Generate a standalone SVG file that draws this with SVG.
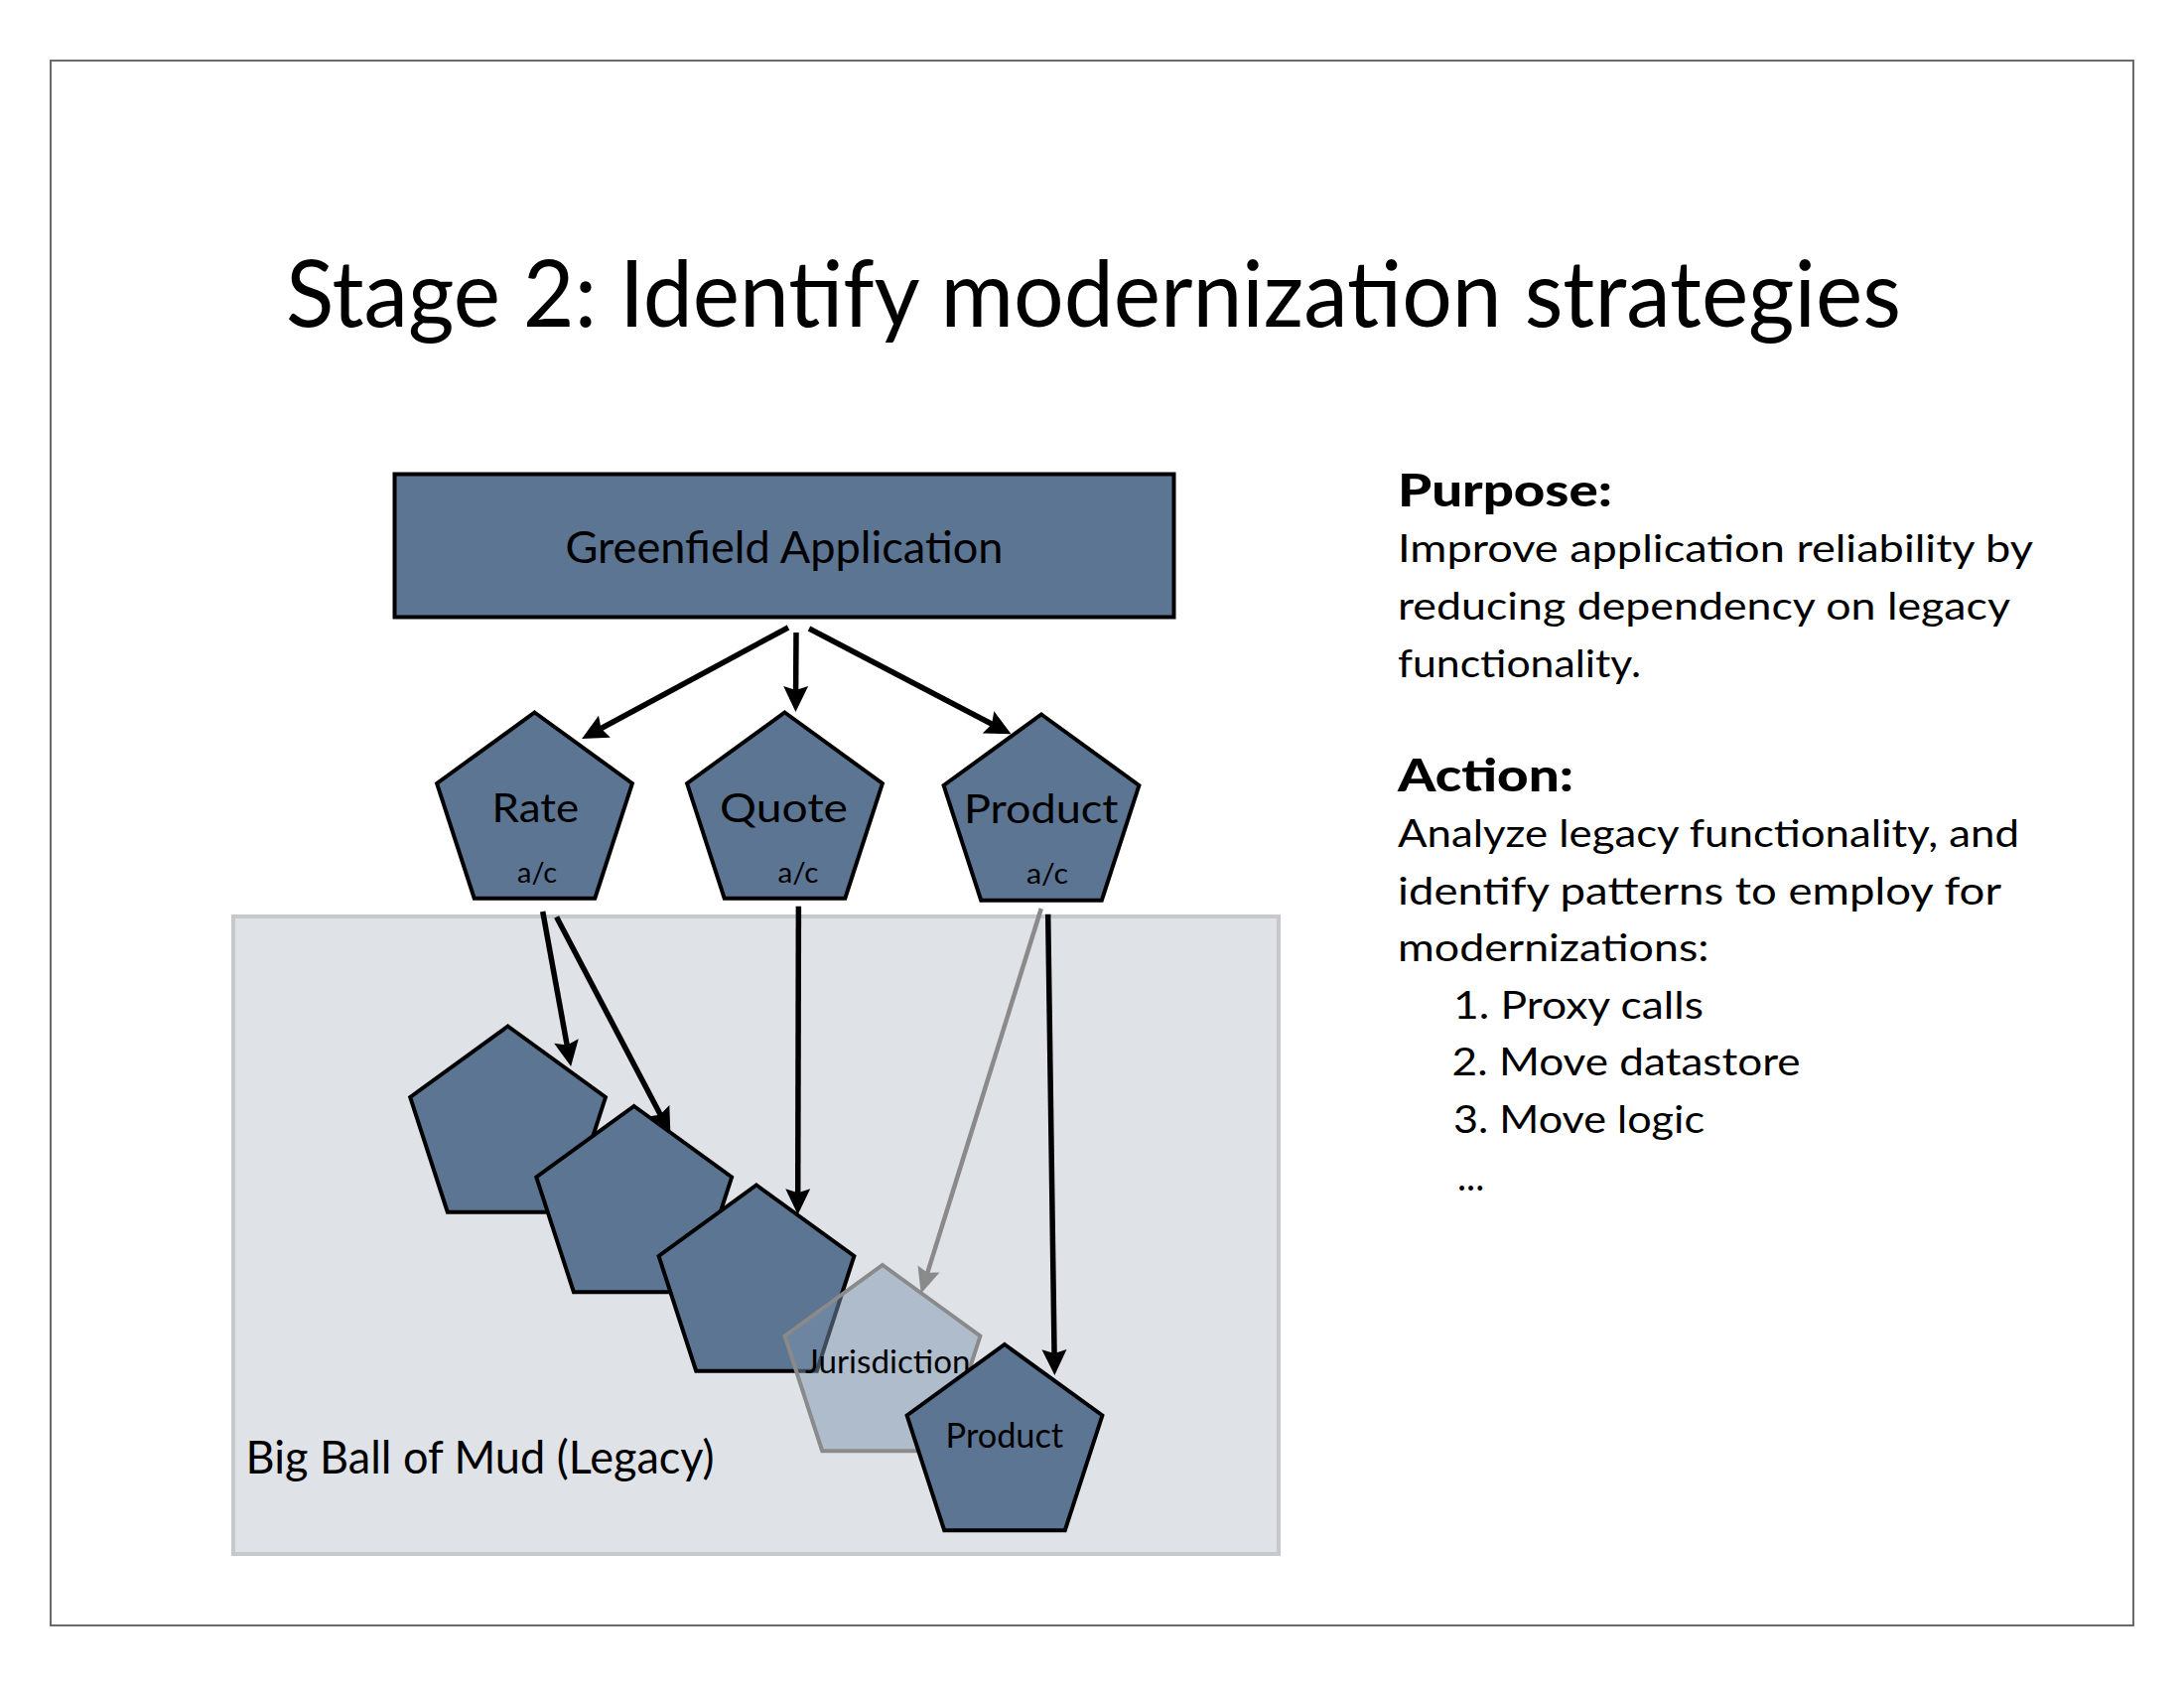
<svg xmlns="http://www.w3.org/2000/svg" xmlns:xlink="http://www.w3.org/1999/xlink" width="2200" height="1700" viewBox="0 0 2200 1700">
<style>
text{font-family:Lato,"Liberation Sans","DejaVu Sans",sans-serif;fill:#000}
.node{fill:#5c7593;stroke:#000;stroke-width:4;stroke-linejoin:miter}
.ghost{fill:#7e96af;fill-opacity:0.5;stroke:#8a8a8a;stroke-width:4}
.conn{fill:none;stroke:#000;stroke-width:5.5}
.conn-g{fill:none;stroke:#8a8a8a;stroke-width:4.5}
.body{font-size:38.5px}
.head{font-size:45px;font-weight:900}
</style>
<defs>
<polygon id="pent" points="0,-103.5 98.4,-32 60.8,83.7 -60.8,83.7 -98.4,-32"/>
<marker id="ah" markerUnits="userSpaceOnUse" markerWidth="50" markerHeight="40" viewBox="-30 -20 50 40" refX="0" refY="0" orient="auto">
<path d="M18,0 L-8,-12.5 L-4,0 L-8,12.5 Z" fill="#000"/>
</marker>
<marker id="ahg" markerUnits="userSpaceOnUse" markerWidth="50" markerHeight="40" viewBox="-30 -20 50 40" refX="0" refY="0" orient="auto">
<path d="M18,0 L-8,-11.5 L-4,0 L-8,11.5 Z" fill="#8a8a8a"/>
</marker>
</defs>

<rect x="51" y="61" width="2098" height="1576" fill="#fff" stroke="#5a5a5a" stroke-width="1.8"/>

<text id="title" x="288" y="329" font-size="94" textLength="1627" lengthAdjust="spacingAndGlyphs">Stage 2: Identify modernization strategies</text>

<g id="legacy">
<rect x="235" y="923" width="1053" height="642" fill="#dfe3e8" stroke="#c6c8cb" stroke-width="4"/>
<text x="247.6" y="1483.6" font-size="46" textLength="472" lengthAdjust="spacingAndGlyphs">Big Ball of Mud (Legacy)</text>
</g>

<g id="greenfield">
<rect x="397.5" y="477.5" width="785" height="144" fill="#5c7593" stroke="#000" stroke-width="4"/>
<text x="569.5" y="566.5" font-size="44" textLength="441" lengthAdjust="spacingAndGlyphs">Greenfield Application</text>
</g>

<g id="rate-ac">
<use xlink:href="#pent" class="node" x="538.5" y="821"/>
<text x="495.6" y="828" font-size="41" textLength="87.6" lengthAdjust="spacingAndGlyphs">Rate</text>
<text x="521" y="889" font-size="29" textLength="40" lengthAdjust="spacingAndGlyphs">a/c</text>
</g>

<g id="quote-ac">
<use xlink:href="#pent" class="node" x="790.5" y="821"/>
<text x="725" y="828" font-size="41" textLength="129" lengthAdjust="spacingAndGlyphs">Quote</text>
<text x="783.5" y="889" font-size="29" textLength="41" lengthAdjust="spacingAndGlyphs">a/c</text>
</g>

<g id="product-ac">
<use xlink:href="#pent" class="node" x="1049" y="823"/>
<text x="971" y="829" font-size="41" textLength="155.5" lengthAdjust="spacingAndGlyphs">Product</text>
<text x="1034" y="890" font-size="29" textLength="42" lengthAdjust="spacingAndGlyphs">a/c</text>
</g>

<g id="legacy-1">
<use xlink:href="#pent" class="node" x="511.6" y="1137"/>
</g>
<g id="legacy-2">
<use xlink:href="#pent" class="node" x="638.7" y="1217.5"/>
</g>
<g id="legacy-3">
<use xlink:href="#pent" class="node" x="762" y="1297"/>
</g>
<g id="jurisdiction">
<use xlink:href="#pent" class="ghost" x="889" y="1377.5"/>
<text x="811" y="1383" font-size="33" textLength="166.5" lengthAdjust="spacingAndGlyphs">Jurisdiction</text>
</g>
<g id="product-legacy">
<use xlink:href="#pent" class="node" x="1012" y="1457.5"/>
<text x="952.6" y="1458" font-size="34" textLength="118.6" lengthAdjust="spacingAndGlyphs">Product</text>
</g>

<g id="connectors">
<line class="conn" x1="794" y1="632" x2="601.9" y2="735.5" marker-end="url(#ah)"/>
<line class="conn" x1="802" y1="637" x2="801.6" y2="699" marker-end="url(#ah)"/>
<line class="conn" x1="815" y1="633" x2="1002.6" y2="731" marker-end="url(#ah)"/>
<line class="conn" x1="546.7" y1="918" x2="571.9" y2="1056.4" marker-end="url(#ah)"/>
<line class="conn" x1="560.6" y1="923.5" x2="667" y2="1126" marker-end="url(#ah)"/>
<line class="conn" x1="804.4" y1="912.7" x2="803.7" y2="1205.3" marker-end="url(#ah)"/>
<line class="conn-g" x1="1048.8" y1="915" x2="933.1" y2="1285.6" marker-end="url(#ahg)"/>
<line class="conn" x1="1055.7" y1="920.7" x2="1062.1" y2="1367.1" marker-end="url(#ah)"/>
</g>

<g id="notes">
<text class="head" x="1408" y="510" textLength="216" lengthAdjust="spacingAndGlyphs">Purpose:</text>
<text class="body" x="1408" y="566" textLength="640" lengthAdjust="spacingAndGlyphs">Improve application reliability by</text>
<text class="body" x="1408" y="624" textLength="617" lengthAdjust="spacingAndGlyphs">reducing dependency on legacy</text>
<text class="body" x="1408" y="682" textLength="245" lengthAdjust="spacingAndGlyphs">functionality.</text>
<text class="head" x="1408" y="797" textLength="177" lengthAdjust="spacingAndGlyphs">Action:</text>
<text class="body" x="1408" y="853" textLength="626" lengthAdjust="spacingAndGlyphs">Analyze legacy functionality, and</text>
<text class="body" x="1408" y="911" textLength="608" lengthAdjust="spacingAndGlyphs">identify patterns to employ for</text>
<text class="body" x="1408" y="968" textLength="313.5" lengthAdjust="spacingAndGlyphs">modernizations:</text>
<text class="body" x="1464" y="1025.5" textLength="252" lengthAdjust="spacingAndGlyphs">1. Proxy calls</text>
<text class="body" x="1462.6" y="1083" textLength="351" lengthAdjust="spacingAndGlyphs">2. Move datastore</text>
<text class="body" x="1464" y="1141" textLength="253" lengthAdjust="spacingAndGlyphs">3. Move logic</text>
<text class="body" x="1468" y="1199">...</text>
</g>
</svg>
